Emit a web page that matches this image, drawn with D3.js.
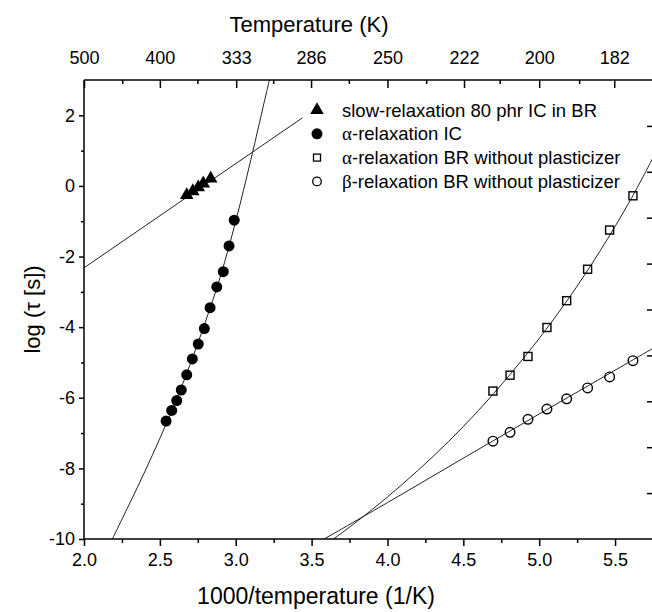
<!DOCTYPE html>
<html>
<head>
<meta charset="utf-8">
<script src="https://cdn.jsdelivr.net/npm/d3@7"></script>
<style>
  html, body { margin: 0; padding: 0; background: #fff; }
  svg { display: block; font-family: "Liberation Sans", Arial, sans-serif; }
</style>
</head>
<body>
<svg id="chart" width="652" height="612"></svg>
<script>
// ---------- data ----------
const xTickValues = [2.0, 2.5, 3.0, 3.5, 4.0, 4.5, 5.0, 5.5];
const xMinorValues = [2.25, 2.75, 3.25, 3.75, 4.25, 4.75, 5.25, 5.75];
const yTickValues = [-10, -8, -6, -4, -2, 0, 2];
const yMinorValues = [-9, -7, -5, -3, -1, 1];
const topTempLabels = [500, 400, 333, 286, 250, 222, 200, 182];
const topMinorTemps = [444, 364, 308, 267, 235, 211, 190, 174];
const rightTickSteps = [1, 2, 3, 4, 5, 6, 7, 8, 9];

// slow-relaxation 80 phr IC in BR (triangles)
const slowX = [2.677, 2.717, 2.753, 2.786, 2.835];
const slowY = [-0.26, -0.15, -0.04, 0.07, 0.21];
const slowFitX = [2.0, 3.44];
const slowFitY = [-2.32, 1.93];

// alpha-relaxation IC (filled circles)
const alphaICX = [2.541, 2.578, 2.611, 2.641, 2.677, 2.714, 2.753, 2.793, 2.831, 2.875, 2.918, 2.956, 2.99];
const alphaICY = [-6.66, -6.36, -6.08, -5.78, -5.35, -4.90, -4.48, -4.04, -3.45, -2.86, -2.43, -1.70, -0.97];
const alphaICFitX = [2.187, 2.3, 2.4, 2.5, 2.6, 2.7, 2.8, 2.9, 3.0, 3.1, 3.2, 3.225];
const alphaICFitY = [-10.0, -9.0, -8.1, -7.15, -6.15, -5.05, -3.85, -2.55, -1.0, 0.75, 2.6, 3.05];

// alpha-relaxation BR without plasticizer (open squares)
const alphaBRX = [4.695, 4.808, 4.926, 5.051, 5.181, 5.319, 5.464, 5.618];
const alphaBRY = [-5.81, -5.36, -4.83, -4.01, -3.25, -2.36, -1.25, -0.28];
const alphaBRFitX = [3.645, 3.8, 4.0, 4.2, 4.4, 4.6, 4.8, 5.0, 5.2, 5.4, 5.6, 5.75];
const alphaBRFitY = [-10.0, -9.50, -8.81, -8.06, -7.25, -6.36, -5.38, -4.32, -3.15, -1.85, -0.41, 0.80];

// beta-relaxation BR without plasticizer (open circles)
const betaBRX = [4.695, 4.808, 4.926, 5.051, 5.181, 5.319, 5.464, 5.618, 5.78];
const betaBRY = [-7.23, -6.98, -6.61, -6.32, -6.03, -5.72, -5.41, -4.95, -4.55];
const betaBRFitX = [3.583, 4.0, 4.5, 5.0, 5.5, 5.75];
const betaBRFitY = [-10.0, -8.97, -7.71, -6.46, -5.22, -4.60];

// ---------- layout ----------
const svg = d3.select("#chart");
const x = d3.scaleLinear().domain([2.0, 5.75]).range([84, 653]);
const y = d3.scaleLinear().domain([-10, 3]).range([539, 80]);
const yRight = d3.scaleLinear().domain([0, 10]).range([539, 80]);
const L = 84, R = 653, T = 80, B = 539;

const defs = svg.append("defs");
defs.append("clipPath").attr("id", "plotclip")
  .append("rect").attr("x", L).attr("y", T).attr("width", R - L).attr("height", B - T);

const zip = (xs, ys) => xs.map((v, i) => [v, ys[i]]);
const line = d3.line().x(d => x(d[0])).y(d => y(d[1])).curve(d3.curveCatmullRom.alpha(0.5));

const plot = svg.append("g").attr("clip-path", "url(#plotclip)");
[[slowFitX, slowFitY], [alphaICFitX, alphaICFitY], [alphaBRFitX, alphaBRFitY], [betaBRFitX, betaBRFitY]]
  .forEach(([xs, ys]) => {
    plot.append("path").datum(zip(xs, ys)).attr("d", line)
      .attr("fill", "none").attr("stroke", "#222").attr("stroke-width", 1);
  });

// markers
const tri = d3.symbol().type(d3.symbolTriangle).size(80);
plot.selectAll(".tri").data(zip(slowX, slowY)).join("path")
  .attr("transform", d => `translate(${x(d[0])},${y(d[1])})`)
  .attr("d", tri).attr("fill", "#000");

plot.selectAll(".fc").data(zip(alphaICX, alphaICY)).join("circle")
  .attr("cx", d => x(d[0])).attr("cy", d => y(d[1])).attr("r", 5.5).attr("fill", "#000");

plot.selectAll(".sq").data(zip(alphaBRX, alphaBRY)).join("rect")
  .attr("x", d => x(d[0]) - 4).attr("y", d => y(d[1]) - 4)
  .attr("width", 8).attr("height", 8)
  .attr("fill", "none").attr("stroke", "#000").attr("stroke-width", 1.4);

plot.selectAll(".oc").data(zip(betaBRX, betaBRY)).join("circle")
  .attr("cx", d => x(d[0])).attr("cy", d => y(d[1])).attr("r", 4.8)
  .attr("fill", "none").attr("stroke", "#000").attr("stroke-width", 1.4);

// ---------- axes ----------
const ax = svg.append("g").attr("stroke", "#000").attr("stroke-width", 1.5).attr("fill", "none");
ax.append("line").attr("x1", L).attr("x2", R).attr("y1", B).attr("y2", B);
ax.append("line").attr("x1", L).attr("x2", R).attr("y1", T).attr("y2", T);
ax.append("line").attr("x1", L).attr("x2", L).attr("y1", T).attr("y2", B);
ax.append("line").attr("x1", R).attr("x2", R).attr("y1", T).attr("y2", B);

const fmtY = d => String(d);
// bottom
svg.append("g").attr("transform", `translate(0,${B})`)
  .call(d3.axisBottom(x).tickValues(xTickValues).tickFormat(d3.format(".1f")).tickSize(7).tickPadding(7));
svg.append("g").attr("transform", `translate(0,${B})`)
  .call(d3.axisBottom(x).tickValues(xMinorValues).tickFormat("").tickSize(4));
// top
svg.append("g").attr("transform", `translate(0,${T})`)
  .call(d3.axisTop(x).tickValues(topTempLabels.map(t => 1000 / t)).tickFormat((d, i) => topTempLabels[i]).tickSizeInner(-8).tickSizeOuter(0).tickPadding(16));
svg.append("g").attr("transform", `translate(0,${T})`)
  .call(d3.axisTop(x).tickValues(topMinorTemps.map(t => 1000 / t)).tickFormat("").tickSizeInner(-4).tickSizeOuter(0));
// left
svg.append("g").attr("transform", `translate(${L},0)`)
  .call(d3.axisLeft(y).tickValues(yTickValues).tickFormat(fmtY).tickSize(5).tickPadding(4));
svg.append("g").attr("transform", `translate(${L},0)`)
  .call(d3.axisLeft(y).tickValues(yMinorValues).tickFormat("").tickSize(3));
// right (inward ticks only)
svg.append("g").attr("transform", `translate(${R},0)`)
  .call(d3.axisRight(yRight).tickValues(rightTickSteps).tickFormat("").tickSizeInner(-6).tickSizeOuter(0));

svg.selectAll(".domain").remove();
svg.selectAll(".tick line").attr("stroke", "#000").attr("stroke-width", 1.5);
svg.selectAll(".tick text").attr("font-size", 18).attr("fill", "#000")
  .attr("font-family", "'Liberation Sans', Arial, sans-serif");

// ---------- titles ----------
svg.append("text").attr("x", 309).attr("y", 32).attr("text-anchor", "middle")
  .attr("font-size", 22).text("Temperature (K)");
svg.append("text").attr("x", 316).attr("y", 604).attr("text-anchor", "middle")
  .attr("font-size", 23).text("1000/temperature (1/K)");
svg.append("text").attr("transform", `translate(40,${(T + B) / 2}) rotate(-90)`).attr("text-anchor", "middle")
  .attr("font-size", 22).text("log (τ [s])");

// ---------- legend ----------
const legendItems = [
  { sym: "tri", greek: "", text: "slow-relaxation 80 phr IC in BR" },
  { sym: "fc", greek: "α", text: "-relaxation IC" },
  { sym: "sq", greek: "α", text: "-relaxation BR without plasticizer" },
  { sym: "oc", greek: "β", text: "-relaxation BR without plasticizer" }
];
const lg = svg.append("g");
legendItems.forEach((it, i) => {
  const cy = 110 + i * 23.8;
  const sx = 317;
  if (it.sym === "tri") lg.append("path").attr("transform", `translate(${sx},${cy})`).attr("d", tri).attr("fill", "#000");
  if (it.sym === "fc") lg.append("circle").attr("cx", sx).attr("cy", cy).attr("r", 5.5).attr("fill", "#000");
  if (it.sym === "sq") lg.append("rect").attr("x", sx - 3.5).attr("y", cy - 3.5).attr("width", 7).attr("height", 7)
    .attr("fill", "none").attr("stroke", "#000").attr("stroke-width", 1.3);
  if (it.sym === "oc") lg.append("circle").attr("cx", sx).attr("cy", cy).attr("r", 4.3)
    .attr("fill", "none").attr("stroke", "#000").attr("stroke-width", 1.3);
  const t = lg.append("text").attr("x", 342).attr("y", cy + 6.5).attr("font-size", 18.5).attr("fill", "#000");
  if (it.greek) t.append("tspan").attr("font-family", "'Liberation Serif', 'DejaVu Serif', serif").attr("font-size", 19).text(it.greek);
  t.append("tspan").text(it.text);
});
</script>
</body>
</html>
